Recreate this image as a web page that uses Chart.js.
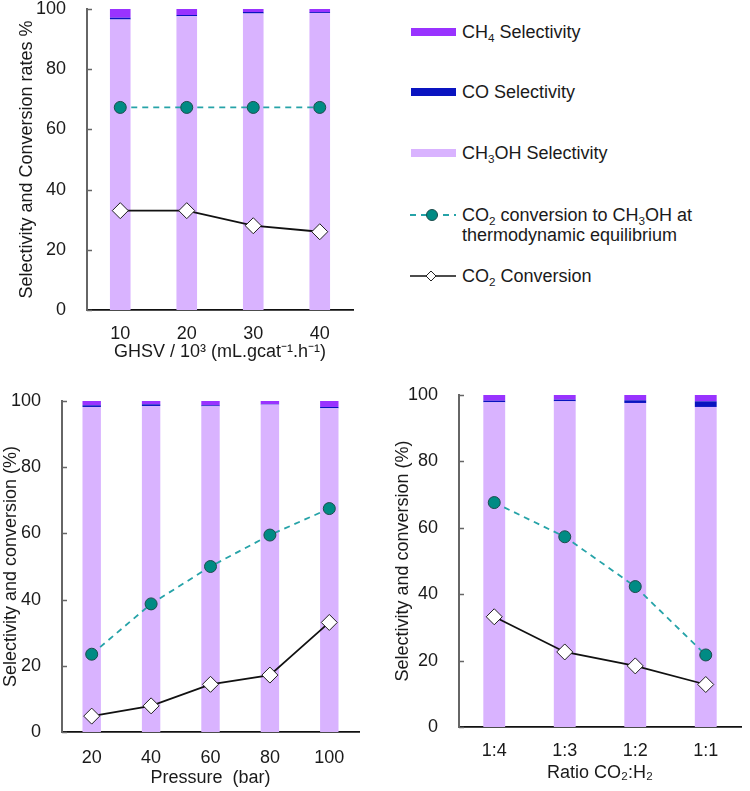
<!DOCTYPE html>
<html>
<head>
<meta charset="utf-8">
<script src="https://cdn.jsdelivr.net/npm/chart.js@4.4.1/dist/chart.umd.min.js"></script>
<style>
body { margin: 0; background: #fff; width: 750px; height: 791px; position: relative; overflow: hidden; font-family: Arial, "Liberation Sans", sans-serif; color: #1a1a1a; }
canvas { position: absolute; }
.sw { position: absolute; left: 411px; width: 45px; height: 8px; }
.lt { position: absolute; left: 462px; font-size: 18px; line-height: 20px; white-space: nowrap; }
.lt sub { font-size: 0.65em; vertical-align: -0.3em; line-height: 0; }
svg { position: absolute; }
</style>
</head>
<body>
<canvas id="ghsv" width="365" height="370" style="left:0;top:0"></canvas>
<canvas id="pres" width="375" height="411" style="left:0;top:380px"></canvas>
<canvas id="ratio" width="370" height="411" style="left:380px;top:380px"></canvas>

<div class="sw" style="top:28px;background:#9933FF"></div>
<div class="lt" style="top:22px">CH<sub>4</sub> Selectivity</div>
<div class="sw" style="top:88px;background:#0A14C0"></div>
<div class="lt" style="top:82px">CO Selectivity</div>
<div class="sw" style="top:149px;background:#D9B3FF"></div>
<div class="lt" style="top:143px">CH<sub>3</sub>OH Selectivity</div>
<svg width="50" height="16" style="left:409px;top:207px">
  <line x1="1" y1="8" x2="47" y2="8" stroke="#26A3A8" stroke-width="1.8" stroke-dasharray="6,5"/>
  <circle cx="23" cy="8" r="5.5" fill="#008B84" stroke="#1d4d4d" stroke-width="1"/>
</svg>
<div class="lt" style="top:205px">CO<sub>2</sub> conversion to CH<sub>3</sub>OH at<br>thermodynamic equilibrium</div>
<svg width="50" height="16" style="left:409px;top:268px">
  <line x1="1" y1="8" x2="47" y2="8" stroke="#111" stroke-width="1.6"/>
  <path d="M22 3 L27 8 L22 13 L17 8 Z" fill="#fff" stroke="#222" stroke-width="1"/>
</svg>
<div class="lt" style="top:266px">CO<sub>2</sub> Conversion</div>

<script>
// GHSV panel
const ghsvLabels = ['10', '20', '30', '40'];
const ghsvMeoh = [96.5, 97.6, 98.5, 98.7];
const ghsvCo = [0.6, 0.4, 0.5, 0.3];
const ghsvCh4 = [2.9, 2.0, 1.0, 1.0];
const ghsvEq = [67.3, 67.3, 67.3, 67.3];
const ghsvConv = [33, 33, 28, 26];

// pressure panel
const presLabels = ['20', '40', '60', '80', '100'];
const presMeoh = [98.2, 98.5, 98.4, 98.9, 97.8];
const presCo = [0.5, 0.5, 0.3, 0.1, 0.4];
const presCh4 = [1.3, 1.0, 1.3, 1.0, 1.8];
const presEq = [23.5, 38.7, 50.0, 59.5, 67.5];
const presConv = [4.8, 7.9, 14.4, 17.2, 33.1];

// ratio panel
const ratioLabels = ['1:4', '1:3', '1:2', '1:1'];
const ratioMeoh = [97.8, 98.1, 97.6, 96.4];
const ratioCo = [0.5, 0.5, 0.8, 1.7];
const ratioCh4 = [1.7, 1.4, 1.6, 1.9];
const ratioEq = [67.6, 57.3, 42.3, 21.7];
const ratioConv = [33.2, 22.6, 18.4, 12.8];

const fontFam = 'Arial, "Liberation Sans", sans-serif';

// small inward ticks on the y axis
const innerTicks = {
    id: 'innerTicks',
    afterDraw(chart) {
        const y = chart.scales.y;
        const ctx = chart.ctx;
        ctx.save();
        ctx.strokeStyle = '#666';
        ctx.lineWidth = 1.5;
        y.ticks.forEach(t => {
            const py = Math.round(y.getPixelForValue(t.value)) + 0.5;
            ctx.beginPath();
            ctx.moveTo(y.right, py);
            ctx.lineTo(y.right + 5, py);
            ctx.stroke();
        });
        ctx.restore();
    }
};

function makeChart(id, labels, meoh, co, ch4, eq, conv, s) {
    new Chart(document.getElementById(id), {
        type: 'bar',
        data: {
            labels: labels,
            datasets: [{
                type: 'line',
                data: conv,
                stack: 'conv',
                order: 0,
                borderColor: '#111',
                borderWidth: 1.8,
                pointStyle: 'rectRot',
                pointRadius: 8,
                pointBackgroundColor: '#fff',
                pointBorderColor: '#222',
                pointBorderWidth: 1
            }, {
                type: 'line',
                data: eq,
                stack: 'eq',
                order: 0,
                borderColor: '#26A3A8',
                borderWidth: 1.8,
                borderDash: [6, 5],
                pointRadius: 6,
                pointBackgroundColor: '#008B84',
                pointBorderColor: '#1d4d4d',
                pointBorderWidth: 1
            }, {
                data: meoh,
                stack: 'sel',
                order: 1,
                backgroundColor: '#D9B3FF'
            }, {
                data: co,
                stack: 'sel',
                order: 1,
                backgroundColor: '#0A14C0'
            }, {
                data: ch4,
                stack: 'sel',
                order: 1,
                backgroundColor: '#9933FF'
            }]
        },
        options: {
            responsive: false,
            animation: false,
            events: [],
            layout: { padding: { top: s.top, right: s.right, left: 0, bottom: 0 } },
            datasets: { bar: { categoryPercentage: 1, barPercentage: 0.31 } },
            plugins: { legend: { display: false }, tooltip: { enabled: false } },
            scales: {
                x: {
                    grid: { display: false },
                    border: { display: true, color: '#111', width: 1.8 },
                    ticks: { color: '#1a1a1a', padding: s.xTickPad, font: { family: fontFam, size: 18 } },
                    title: { display: true, text: s.xTitle, color: '#1a1a1a', padding: { top: 0, bottom: s.xTitlePad }, font: { family: fontFam, size: 18 } },
                    afterFit: sc => { sc.height = s.xH; sc.paddingLeft = 0; sc.paddingRight = 0; }
                },
                y: {
                    min: 0,
                    max: 100,
                    stacked: true,
                    grid: { display: false },
                    border: { display: true, color: '#666', width: 2 },
                    ticks: { stepSize: 20, color: '#1a1a1a', padding: 13, font: { family: fontFam, size: 18 } },
                    title: { display: true, text: s.yTitle, color: '#1a1a1a', padding: { top: s.yTitlePad, bottom: 0 }, font: { family: fontFam, size: 18 } },
                    afterFit: sc => { sc.width = s.yW; sc.paddingTop = 0; sc.paddingBottom = 0; }
                }
            }
        },
        plugins: [innerTicks]
    });
}

makeChart('ghsv', ghsvLabels, ghsvMeoh, ghsvCo, ghsvCh4, ghsvEq, ghsvConv, {
    top: 8, right: 12, xH: 60, yW: 87, xTickPad: 5, xTitlePad: 7, yTitlePad: 16,
    xTitle: 'GHSV / 10³ (mL.gcat⁻¹.h⁻¹)',
    yTitle: 'Selectivity and Conversion rates %'
});
makeChart('pres', presLabels, presMeoh, presCo, presCh4, presEq, presConv, {
    top: 21, right: 16, xH: 59, yW: 62, xTickPad: 7, xTitlePad: 2, yTitlePad: 0,
    xTitle: 'Pressure  (bar)',
    yTitle: 'Selectivity and conversion (%)'
});
makeChart('ratio', ratioLabels, ratioMeoh, ratioCo, ratioCh4, ratioEq, ratioConv, {
    top: 15, right: 2, xH: 64, yW: 79, xTickPad: 5, xTitlePad: 7, yTitlePad: 12,
    xTitle: 'Ratio CO₂:H₂',
    yTitle: 'Selectivity and conversion (%)'
});
</script>
</body>
</html>
